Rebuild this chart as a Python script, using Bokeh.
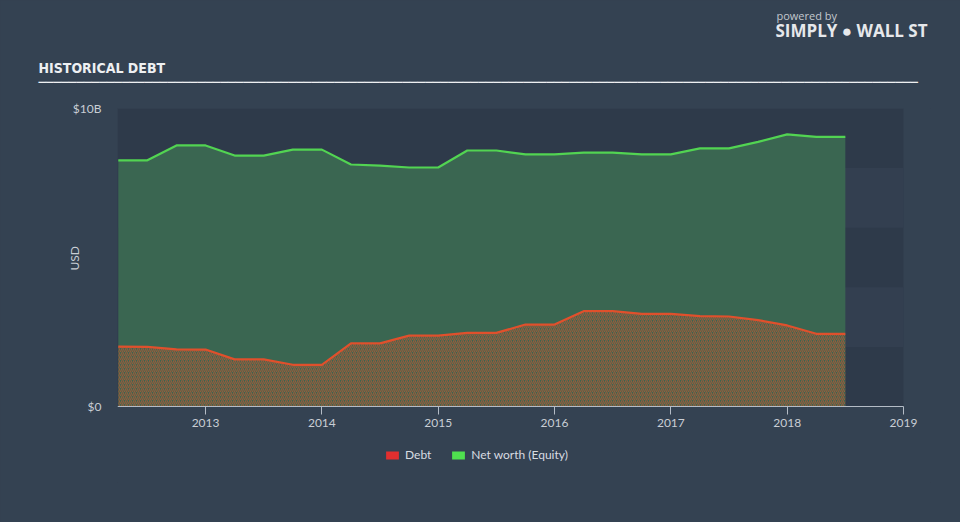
import math
from bokeh.plotting import figure
from bokeh.models import (BoxAnnotation, FixedTicker, Legend, LegendItem, Range1d, Title)
from bokeh.embed import file_html
from bokeh.resources import INLINE

# ---- data (USD billions, quarterly) ----
periods = [2012.25, 2012.5, 2012.75, 2013.0, 2013.25, 2013.5, 2013.75, 2014.0,
           2014.25, 2014.5, 2014.75, 2015.0, 2015.25, 2015.5, 2015.75, 2016.0,
           2016.25, 2016.5, 2016.75, 2017.0, 2017.25, 2017.5, 2017.75, 2018.0,
           2018.25, 2018.5]
debt = [2.01, 2.00, 1.92, 1.91, 1.58, 1.58, 1.40, 1.40,
        2.12, 2.12, 2.38, 2.38, 2.47, 2.47, 2.75, 2.75,
        3.20, 3.20, 3.11, 3.11, 3.03, 3.02, 2.90, 2.72,
        2.44, 2.44]
equity = [8.26, 8.26, 8.76, 8.76, 8.42, 8.42, 8.62, 8.62,
          8.12, 8.08, 8.02, 8.02, 8.59, 8.59, 8.46, 8.46,
          8.52, 8.52, 8.46, 8.46, 8.66, 8.66, 8.88, 9.13,
          9.05, 9.05]
year_ticks = [2013, 2014, 2015, 2016, 2017, 2018, 2019]
y_ticks = [0, 10]
y_tick_labels = {0: "$0", 10: "$10B"}
band_ticks = [2, 4, 6, 8]
title_text = "HISTORICAL DEBT"
series_names = ["Debt", "Net worth (Equity)"]
axis_title = "USD"

W, H = 960, 522
FL, FR, FT = 117, 903, 108          # plot-area left / right / top (px)
FRAME_R = 930                       # frame extends a little so "2019" is not clipped
Y0_PX = 406                         # pixel row of $0
FB_PX = 482                         # frame bottom (legend lives inside)
X0, X1 = 2012.243, 2019.0
Y_MAX = 10
px_per_year = (FR - FL) / (X1 - X0)
px_per_unit = (Y0_PX - FT) / Y_MAX
x_hi = X1 + (FRAME_R - FR) / px_per_year
y_lo = -(FB_PX - Y0_PX) / px_per_unit

BG = "#344252"
PLOT_BG = "#2e3a4a"
BAND = "#333f50"
TXT = "#c9ced5"
FONT = "Lato"

p = figure(width=W, height=H, output_backend="svg", toolbar_location=None,
           x_range=Range1d(X0, x_hi), y_range=Range1d(y_lo, Y_MAX),
           min_border_left=FL, min_border_right=W - FRAME_R,
           min_border_top=FT, min_border_bottom=H - FB_PX)
p.border_fill_color = BG
p.background_fill_color = BG
p.outline_line_color = None
p.styles = {"background-color": BG}
p.grid.visible = False

# plot-area background and alternating lighter bands
p.add_layout(BoxAnnotation(left=X0, right=X1, bottom=y_ticks[0], top=y_ticks[-1],
                           fill_color=PLOT_BG, fill_alpha=1.0, line_color=None,
                           level="underlay"))
for lo, hi in zip(band_ticks[0::2], band_ticks[1::2]):
    p.add_layout(BoxAnnotation(left=X0, right=X1, bottom=lo, top=hi,
                               fill_color=BAND, fill_alpha=1.0, line_color=None,
                               level="underlay"))

# x axis drawn at $0
p.xaxis.fixed_location = 0
p.xaxis.bounds = (X0, X1)
p.xaxis.ticker = FixedTicker(ticks=year_ticks)
p.xaxis.axis_line_color = "#b4bcc6"
p.xaxis.major_tick_line_color = "#b4bcc6"
p.xaxis.major_tick_out = 8
p.xaxis.major_tick_in = 0
p.xaxis.minor_tick_line_color = None
p.xaxis.major_label_text_color = TXT
p.xaxis.major_label_text_font = FONT
p.xaxis.major_label_text_font_size = "12px"
p.xaxis.major_label_standoff = 4

p.yaxis.ticker = FixedTicker(ticks=y_ticks)
p.yaxis.major_label_overrides = y_tick_labels
p.yaxis.axis_line_color = None
p.yaxis.major_tick_line_color = None
p.yaxis.minor_tick_line_color = None
p.yaxis.major_tick_out = 0
p.yaxis.major_tick_in = 0
p.yaxis.major_label_standoff = 16
p.yaxis.major_label_text_color = TXT
p.yaxis.major_label_text_font = FONT
p.yaxis.major_label_text_font_size = "12px"

# areas and lines
p.varea(x=periods, y1=0, y2=equity, fill_color="#3a6651", fill_alpha=1.0)
p.varea(x=periods, y1=0, y2=debt, fill_alpha=0.0,
        hatch_pattern="/", hatch_color="#d0552f", hatch_weight=1.2,
        hatch_scale=4, hatch_alpha=0.6)
p.line(x=periods, y=equity, line_color="#52d452", line_width=2.2)
p.line(x=periods, y=debt, line_color="#e0502c", line_width=2.2)

# legend swatches (not drawn in the plot: NaN coordinates)
nan = [math.nan]
r_debt = p.quad(left=nan, right=nan, top=nan, bottom=nan, fill_color="#e22f2f", line_color=None)
r_eq = p.quad(left=nan, right=nan, top=nan, bottom=nan, fill_color="#4fe04f", line_color=None)
legend = Legend(items=[LegendItem(label=series_names[0], renderers=[r_debt]),
                       LegendItem(label=series_names[1], renderers=[r_eq])],
                orientation="horizontal", location=(384 - FL, FB_PX - 462),
                glyph_width=16, glyph_height=10, label_standoff=5, spacing=19,
                padding=0, margin=0, background_fill_alpha=0, border_line_alpha=0,
                label_text_color="#d8dce1", label_text_font=FONT,
                label_text_font_size="12px", label_height=12)
p.add_layout(legend, "center")

# USD title on the left (reads bottom-to-top, centred near y=258)
usd = Title(text=axis_title, align="left", offset=FB_PX - 270,
            text_font=FONT, text_font_size="12px", text_font_style="normal",
            text_color=TXT, standoff=-25)
p.add_layout(usd, "left")

# header texts in the top panel (first = nearest to the plot area)
heading = Title(text=title_text + "\n" + "\u2500" * 116, align="left", offset=38 - FL,
                text_font="DejaVu Sans Condensed", text_font_size="14px",
                text_font_style="bold", text_color="#eef0f2", standoff=37,
                text_line_height=0.9)
logo_main = Title(text="SIMPLY  \u25cf  WALL ST", align="left", offset=775 - FL,
                  text_font="Open Sans", text_font_size="17px",
                  text_font_style="bold", text_color="#e6e8eb", standoff=-4)
logo_top = Title(text="powered by", align="left", offset=776 - FL,
                 text_font="Open Sans", text_font_size="11px",
                 text_font_style="normal", text_color="#c3c8ce", standoff=-8)
for t in (heading, logo_main, logo_top):
    p.add_layout(t, "above")

open("out.html", "w").write(file_html(p, INLINE))
